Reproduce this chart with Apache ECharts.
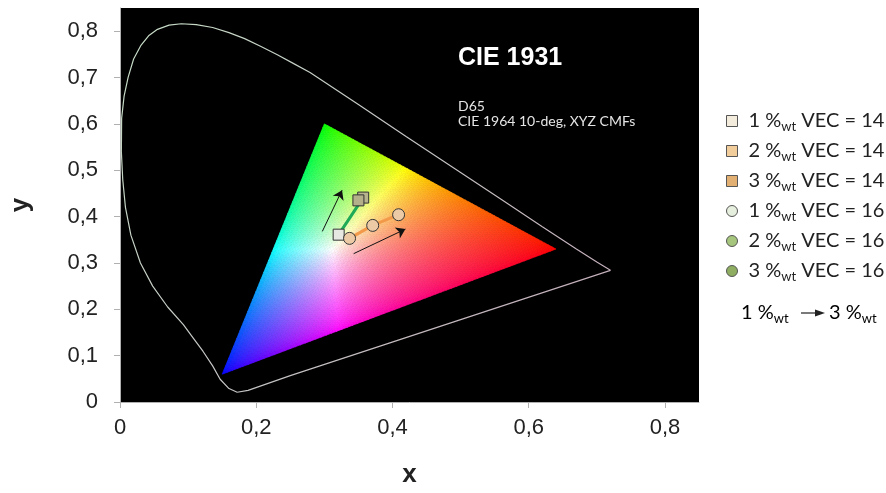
<!DOCTYPE html>
<html><head><meta charset="utf-8">
<script src="https://cdn.jsdelivr.net/npm/echarts@6/dist/echarts.min.js"></script>
<style>html,body{margin:0;padding:0;background:#fff}#c{width:886px;height:493px}</style>
</head><body><div id="c"></div>
<script>
// ---------- data ----------
const xTicks = [0, 0.2, 0.4, 0.6, 0.8];
const yTicks = [0, 0.1, 0.2, 0.3, 0.4, 0.5, 0.6, 0.7, 0.8];

// spectral locus
const locusX = [0.172,0.160,0.147,0.136,0.122,0.107,0.093,0.070,0.048,0.030,0.016,0.008,0.004,0.002,0.0024,0.006,0.012,0.020,0.031,0.042,0.055,0.072,0.090,0.112,0.136,0.160,0.183,0.207,0.231,0.255,0.279,0.350,0.420,0.490,0.560,0.620,0.670,0.700,0.720,0.250,0.188,0.172];
const locusY = [0.021,0.029,0.049,0.078,0.109,0.139,0.167,0.205,0.250,0.300,0.360,0.420,0.480,0.540,0.612,0.660,0.701,0.740,0.770,0.790,0.804,0.813,0.816,0.814,0.808,0.797,0.784,0.767,0.749,0.730,0.711,0.642,0.573,0.505,0.437,0.378,0.330,0.302,0.284,0.057,0.025,0.021];

// sRGB gamut primaries R, G, B
const gamutX = [0.64, 0.30, 0.15];
const gamutY = [0.33, 0.60, 0.06];

// measured points
const vec14Names = ['1 %wt VEC = 14', '2 %wt VEC = 14', '3 %wt VEC = 14'];
const vec16Names = ['1 %wt VEC = 16', '2 %wt VEC = 16', '3 %wt VEC = 16'];
const vec14X = [0.321, 0.357, 0.350];
const vec14Y = [0.361, 0.441, 0.435];
const vec16X = [0.337, 0.371, 0.409];
const vec16Y = [0.353, 0.381, 0.404];

// trend arrows [x1, y1, x2, y2]
const arrow14 = [0.297, 0.368, 0.326, 0.457];
const arrow16 = [0.343, 0.320, 0.419, 0.373];

// ---------- styling ----------
const plot14Colors = ['#e8e8e2', '#b8b48e', '#b4b08a'];
const plot16Colors = ['#eccaa6', '#eccaa6', '#eccaa6'];
const legend14Colors = ['#f3ecdc', '#f0cd9a', '#e2b072'];
const legend16Colors = ['#e6eedd', '#a6c67e', '#8fae62'];

function xyToRGB(x, y) {
  const X = x / y, Y = 1, Z = (1 - x - y) / y;
  let r = 3.2406 * X - 1.5372 * Y - 0.4986 * Z;
  let g = -0.9689 * X + 1.8758 * Y + 0.0415 * Z;
  let b = 0.0557 * X - 0.2040 * Y + 1.0570 * Z;
  r = Math.max(r, 0); g = Math.max(g, 0); b = Math.max(b, 0);
  const m = Math.max(r, g, b) || 1;
  const gam = v => { v = Math.pow(v / m, 1 / 1.5); return Math.round(Math.min(1, Math.max(0, v)) * 255); };
  return 'rgb(' + gam(r) + ',' + gam(g) + ',' + gam(b) + ')';
}

const fmt = v => v === 0 ? '0' : v.toFixed(1).replace('.', ',');
const richLegend = {
  a: { fontSize: 20, fontFamily: 'Lato', color: '#222', lineHeight: 24 },
  s: { fontSize: 13, fontFamily: 'Lato', color: '#222', lineHeight: 13, padding: [11, 0, 0, 0] }
};
const toRich = name => '{a|' + name.replace('%wt', '%}{s|wt}{a|') + '}';

const series = [];
// gamut triangle
series.push({
  type: 'custom', coordinateSystem: 'cartesian2d', data: [[0]], silent: true, z: 1, clip: false,
  renderItem: function (params, api) {
    const N = 64, children = [];
    const P = (i, j) => { const a = i / N, b = j / N, c = 1 - a - b;
      return [a * gamutX[0] + b * gamutX[1] + c * gamutX[2], a * gamutY[0] + b * gamutY[1] + c * gamutY[2]]; };
    const add = (p1, p2, p3) => {
      const cx = (p1[0] + p2[0] + p3[0]) / 3, cy = (p1[1] + p2[1] + p3[1]) / 3;
      const col = xyToRGB(cx, cy);
      children.push({ type: 'polygon', shape: { points: [api.coord(p1), api.coord(p2), api.coord(p3)] },
        style: { fill: col, stroke: col, lineWidth: 0.7 } });
    };
    for (let i = 0; i < N; i++) for (let j = 0; j < N - i; j++) {
      add(P(i, j), P(i + 1, j), P(i, j + 1));
      if (i + j < N - 1) add(P(i + 1, j), P(i + 1, j + 1), P(i, j + 1));
    }
    return { type: 'group', children };
  }
});
// spectral locus
series.push({
  type: 'line', data: locusX.map((x, i) => [x, locusY[i]]), showSymbol: false, silent: true, z: 2,
  lineStyle: { width: 1.2, color: { type: 'linear', x: 0, y: 0, x2: 1, y2: 1,
    colorStops: [{ offset: 0, color: '#c6dcc6' }, { offset: 0.5, color: '#c4c4c4' }, { offset: 1, color: '#c2a6b6' }] } }
});
// connecting lines
series.push({ type: 'line', data: vec14X.map((x, i) => [x, vec14Y[i]]), showSymbol: false, silent: true, z: 3,
  lineStyle: { color: '#1faa58', width: 3 } });
series.push({ type: 'line', data: vec16X.map((x, i) => [x, vec16Y[i]]), showSymbol: false, silent: true, z: 3,
  lineStyle: { color: '#f29a4a', width: 3 } });
// arrows
series.push({ type: 'lines', coordinateSystem: 'cartesian2d', silent: true, z: 4,
  symbol: ['none', 'arrow'], symbolSize: 9,
  lineStyle: { color: '#111', width: 1, opacity: 1 },
  data: [arrow14, arrow16].map(a => ({ coords: [[a[0], a[1]], [a[2], a[3]]] })) });
// points
vec14Names.forEach((n, i) => series.push({ name: n, type: 'scatter', symbol: 'rect', symbolSize: 11, z: 5,
  data: [[vec14X[i], vec14Y[i]]], itemStyle: { color: plot14Colors[i], borderColor: '#333', borderWidth: 1, opacity: 1 } }));
vec16Names.forEach((n, i) => series.push({ name: n, type: 'scatter', symbol: 'circle', symbolSize: 12, z: 5,
  data: [[vec16X[i], vec16Y[i]]], itemStyle: { color: plot16Colors[i], borderColor: '#333', borderWidth: 1, opacity: 1 } }));

const legendData = vec14Names.map((n, i) => ({ name: n, icon: 'rect', itemStyle: { color: legend14Colors[i], borderColor: '#555', borderWidth: 1 } }))
  .concat(vec16Names.map((n, i) => ({ name: n, icon: 'circle', itemStyle: { color: legend16Colors[i], borderColor: '#555', borderWidth: 1 } })));

const chart = echarts.init(document.getElementById('c'), null, { renderer: 'canvas' });
chart.setOption({
  animation: false,
  backgroundColor: '#fff',
  grid: { left: 105, right: 187, top: 8, bottom: 72, show: true, backgroundColor: '#000', borderWidth: 0 },
  xAxis: {
    type: 'value', min: 0, max: 0.85, name: 'x', nameLocation: 'middle', nameGap: 60,
    nameTextStyle: { fontSize: 26, fontWeight: 'bold', fontFamily: 'Liberation Sans', color: '#222' },
    axisLine: { show: true, lineStyle: { color: '#b0b0b0', width: 1 } },
    axisTick: { show: true, length: 6, lineStyle: { color: '#b0b0b0' }, customValues: xTicks },
    axisLabel: { customValues: xTicks, formatter: fmt, fontSize: 22, fontFamily: 'Liberation Sans', color: '#222', margin: 15 },
    splitLine: { show: false }
  },
  yAxis: {
    type: 'value', min: 0, max: 0.85, name: 'y', nameLocation: 'middle', nameGap: 86, nameRotate: 90,
    nameTextStyle: { fontSize: 26, fontWeight: 'bold', fontFamily: 'Liberation Sans', color: '#222' },
    axisLine: { show: true, lineStyle: { color: '#b0b0b0', width: 1 } },
    axisTick: { show: true, length: 6, lineStyle: { color: '#b0b0b0' }, customValues: yTicks },
    axisLabel: { customValues: yTicks, formatter: fmt, fontSize: 22, fontFamily: 'Liberation Sans', color: '#222', margin: 22 },
    splitLine: { show: false }
  },
  legend: {
    orient: 'vertical', left: 726, top: 109, padding: 0, itemGap: 6, itemWidth: 11, itemHeight: 11,
    data: legendData, formatter: toRich, selectedMode: false,
    textStyle: { fontSize: 20, fontFamily: 'Lato', color: '#222', padding: [0, 0, 0, 6], rich: richLegend }
  },
  graphic: [
    { type: 'text', left: 458, top: 46, silent: true, style: { text: 'CIE 1931', fill: '#fff', font: 'bold 25px "Liberation Sans"' } },
    { type: 'text', left: 458, top: 99, silent: true, style: { text: 'D65', fill: '#e4e4e4', font: '14px Lato' } },
    { type: 'text', left: 458, top: 114, silent: true, style: { text: 'CIE 1964 10-deg, XYZ CMFs', fill: '#e4e4e4', font: '14px Lato' } },
    { type: 'text', left: 741, top: 301, silent: true, style: { text: toRich('1 %wt'), rich: richLegend } },
    { type: 'line', silent: true, shape: { x1: 801, y1: 313, x2: 817, y2: 313 }, style: { stroke: '#222', lineWidth: 1.2 } },
    { type: 'polygon', silent: true, shape: { points: [[815, 309.5], [825, 313], [815, 316.5]] }, style: { fill: '#222' } },
    { type: 'text', left: 829, top: 301, silent: true, style: { text: toRich('3 %wt'), rich: richLegend } }
  ],
  series
});
</script></body></html>
